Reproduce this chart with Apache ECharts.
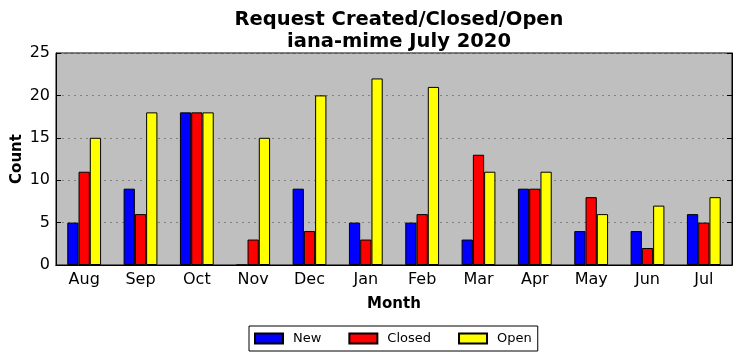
<!DOCTYPE html>
<html><head><meta charset="utf-8">
<script src="https://cdn.jsdelivr.net/npm/echarts@6/dist/echarts.min.js"></script>
<style>html,body{margin:0;padding:0;background:#fff}#c{width:742px;height:361px}</style>
</head><body><div id="c"></div>
<script>
const months = ['Aug','Sep','Oct','Nov','Dec','Jan','Feb','Mar','Apr','May','Jun','Jul'];
const newVals = [5,9,18,0,9,5,5,3,9,4,4,6];
const closedVals = [11,6,18,3,4,3,6,13,9,8,2,5];
const openVals = [15,18,18,15,20,22,21,11,11,6,7,8];
const yTicks = [0,5,10,15,20,25];
const F = 'DejaVu Sans';
const chart = echarts.init(document.getElementById('c'));
const ser = (name, data, color) => ({
  name, type:'bar', data, barGap:'0%', barCategoryGap:'40%',
  itemStyle:{color, borderColor:'#000', borderWidth:1}
});
chart.setOption({
  animation:false,
  backgroundColor:'#fff',
  title:{
    text:'Request Created/Closed/Open\niana-mime July 2020',
    left:394, textAlign:'center', top:4,
    textStyle:{fontFamily:F, fontSize:19.5, fontWeight:'bold', color:'#000', lineHeight:22}
  },
  legend:{
    left:249, top:326, padding:[6,6,6,5], itemWidth:28, itemHeight:10, itemGap:27,
    borderColor:'#000', borderWidth:1, icon:'rect',
    textStyle:{fontFamily:F, fontSize:13, color:'#000', padding:[0,0,0,5]}
  },
  grid:{left:56, right:10, top:53, bottom:96, show:true, backgroundColor:'#bfbfbf', borderColor:'#000', borderWidth:1, outerBoundsMode:'none', containLabel:false},
  xAxis:[{
    type:'category', data:months, position:'bottom',
    name:'Month', nameLocation:'middle', nameGap:32, nameMoveOverlap:false,
    nameTextStyle:{fontFamily:F, fontSize:15, fontWeight:'bold', color:'#000'},
    axisLine:{lineStyle:{color:'#000'}},
    axisTick:{alignWithLabel:true, inside:true, length:5, lineStyle:{color:'#000'}},
    axisLabel:{fontFamily:F, fontSize:16, color:'#000', margin:7}
  },{
    type:'category', data:months, position:'top',
    axisLine:{lineStyle:{color:'#000'}},
    axisTick:{alignWithLabel:true, inside:true, length:5, lineStyle:{color:'#000'}},
    axisLabel:{show:false}
  }],
  yAxis:[{
    type:'value', min:0, max:25, interval:5,
    name:'Count', nameLocation:'middle', nameGap:31, nameMoveOverlap:false,
    nameTextStyle:{fontFamily:F, fontSize:15, fontWeight:'bold', color:'#000'},
    axisLine:{show:true, lineStyle:{color:'#000'}},
    axisTick:{show:true, inside:true, length:5, lineStyle:{color:'#000'}},
    axisLabel:{fontFamily:F, fontSize:16, color:'#000', margin:6,
      formatter:v => yTicks.includes(v) ? String(v) : ''},
    splitLine:{show:true, lineStyle:{color:'#808080', type:[2,4], width:1}}
  },{
    type:'value', min:0, max:25, interval:5, position:'right',
    axisLine:{show:true, lineStyle:{color:'#000'}},
    axisTick:{show:true, inside:true, length:5, lineStyle:{color:'#000'}},
    axisLabel:{show:false}, splitLine:{show:false}
  }],
  series:[ser('New', newVals, '#0000ff'), ser('Closed', closedVals, '#ff0000'), ser('Open', openVals, '#ffff00')]
});
</script></body></html>
